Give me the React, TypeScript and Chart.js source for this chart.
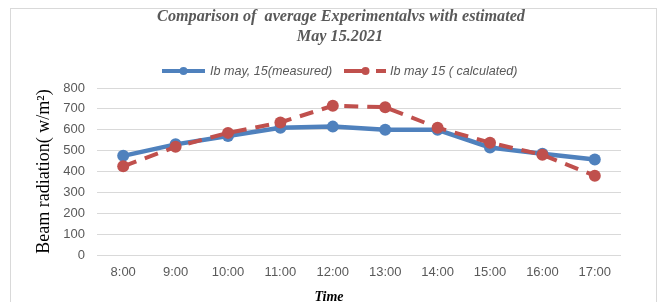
import React, { useEffect, useRef } from "react";
import { Chart, registerables } from "chart.js";

Chart.register(...registerables);

const categories = ["8:00", "9:00", "10:00", "11:00", "12:00", "13:00", "14:00", "15:00", "16:00", "17:00"];
const measured = [475, 530, 570, 610, 615, 600, 600, 515, 485, 458];
const calculated = [425, 518, 585, 635, 715, 708, 610, 538, 480, 380];
const yMin = 0;
const yMax = 800;
const yStep = 100;
const titleLines = ["Comparison of  average Experimentalvs with estimated", "May 15.2021"];
const legendLabels = ["Ib may, 15(measured)", "Ib may 15 ( calculated)"];
const yTitle = "Beam radiation( w/m\u00B2)";
const xTitle = "Time";

const BLUE = "#4F81BD";
const RED = "#C0504D";
const GRAY = "#595959";

const decorPlugin = {
  id: "decor",
  afterDraw(chart: any) {
    const ctx = chart.ctx as CanvasRenderingContext2D;
    ctx.save();
    // Title
    ctx.fillStyle = GRAY;
    ctx.font = "italic bold 16.2px 'Liberation Serif'";
    ctx.textAlign = "center";
    ctx.textBaseline = "middle";
    ctx.fillText(titleLines[0], 341, 17);
    ctx.fillText(titleLines[1], 340, 37);

    // Legend
    const ly = 71;
    ctx.strokeStyle = BLUE;
    ctx.lineWidth = 4;
    ctx.setLineDash([]);
    ctx.beginPath();
    ctx.moveTo(162, ly);
    ctx.lineTo(205, ly);
    ctx.stroke();
    ctx.fillStyle = BLUE;
    ctx.beginPath();
    ctx.arc(183.5, ly, 4, 0, Math.PI * 2);
    ctx.fill();
    ctx.fillStyle = GRAY;
    ctx.font = "italic 12.6px 'Liberation Sans'";
    ctx.textAlign = "left";
    ctx.fillText(legendLabels[0], 210, ly);
    ctx.strokeStyle = RED;
    ctx.lineWidth = 4;
    ctx.setLineDash([18, 14]);
    ctx.beginPath();
    ctx.moveTo(344, ly);
    ctx.lineTo(386, ly);
    ctx.stroke();
    ctx.setLineDash([]);
    ctx.fillStyle = RED;
    ctx.beginPath();
    ctx.arc(365.5, ly, 4, 0, Math.PI * 2);
    ctx.fill();
    ctx.fillStyle = GRAY;
    ctx.fillText(legendLabels[1], 390, ly);

    // x axis title
    ctx.fillStyle = "#000";
    ctx.font = "italic bold 14px 'Liberation Serif'";
    ctx.textAlign = "center";
    ctx.fillText(xTitle, 329, 297);
    ctx.restore();
  },
};

export default function App() {
  const ref = useRef<HTMLCanvasElement>(null);
  useEffect(() => {
    if (!ref.current) return;
    const chart = new Chart(ref.current, {
      type: "line",
      data: {
        labels: categories,
        datasets: [
          {
            label: legendLabels[0],
            data: measured,
            borderColor: BLUE,
            backgroundColor: BLUE,
            pointBackgroundColor: BLUE,
            pointBorderColor: BLUE,
            borderWidth: 4.5,
            pointRadius: 6,
            pointBorderWidth: 0,
            tension: 0,
            order: 2,
          },
          {
            label: legendLabels[1],
            data: calculated,
            borderColor: RED,
            backgroundColor: RED,
            pointBackgroundColor: RED,
            pointBorderColor: RED,
            borderWidth: 4,
            borderDash: [14, 9],
            pointRadius: 6,
            pointBorderWidth: 0,
            tension: 0,
            order: 1,
          },
        ],
      },
      options: {
        responsive: false,
        animation: false,
        layout: { padding: { left: 33, right: 41, top: 88, bottom: 0 } },
        plugins: {
          legend: { display: false },
          title: { display: false },
          tooltip: { enabled: false },
        },
        scales: {
          x: {
            offset: true,
            grid: { display: false, drawTicks: false },
            border: { display: false },
            ticks: {
              color: GRAY,
              font: { family: "'Liberation Sans'", size: 13 },
              padding: 10,
              maxRotation: 0,
              autoSkip: false,
            },
            afterFit: (s: any) => {
              s.height = 47;
            },
          },
          y: {
            min: yMin,
            max: yMax,
            ticks: {
              stepSize: yStep,
              color: GRAY,
              font: { family: "'Liberation Sans'", size: 13 },
              padding: 12,
            },
            grid: { color: "#d9d9d9", drawTicks: false },
            border: { display: false },
            title: {
              display: true,
              text: yTitle,
              color: "#000",
              font: { family: "'Liberation Serif'", size: 18 },
              padding: 0,
            },
            afterFit: (s: any) => {
              s.width = 64;
            },
          },
        },
      },
      plugins: [decorPlugin],
    });
    return () => chart.destroy();
  }, []);

  return (
    <div
      style={{
        position: "fixed",
        left: 0,
        top: 0,
        width: 662,
        height: 302,
        overflow: "hidden",
        background: "#fff",
      }}
    >
      <div
        style={{
          position: "absolute",
          left: 10,
          top: 8,
          width: 647,
          height: 400,
          border: "1px solid #d9d9d9",
          boxSizing: "border-box",
        }}
      />
      <canvas
        ref={ref}
        width={662}
        height={302}
        style={{ position: "absolute", left: 0, top: 0 }}
      />
    </div>
  );
}
